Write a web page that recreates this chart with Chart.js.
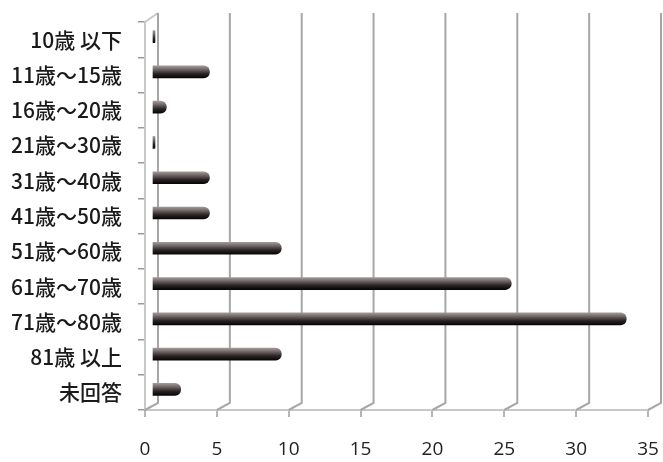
<!DOCTYPE html>
<html>
<head>
<meta charset="utf-8">
<script src="https://cdn.jsdelivr.net/npm/chart.js@4"></script>
<style>
  html, body { margin: 0; padding: 0; background: #fff; }
  #wrap { width: 663px; height: 462px; position: relative; }
</style>
</head>
<body>
<div id="wrap"><canvas id="c"></canvas></div>
<script>
const categories = [
  '10歳 以下', '11歳～15歳', '16歳～20歳', '21歳～30歳', '31歳～40歳',
  '41歳～50歳', '51歳～60歳', '61歳～70歳', '71歳～80歳', '81歳 以上', '未回答'
]
const counts = [0, 4, 1, 0, 4, 4, 9, 25, 33, 9, 2]
const xTicks = [0, 5, 10, 15, 20, 25, 30, 35]

// depth offset of the back wall (3D look)
const DX = 13
const DY = -7

const backWall = {
  id: 'backWall',
  beforeDatasetsDraw (chart) {
    const { ctx, chartArea, scales } = chart
    const x = scales.x
    ctx.save()
    // floor + left wall
    ctx.strokeStyle = '#c8c8c8'
    ctx.lineWidth = 2
    ctx.beginPath()
    ctx.moveTo(chartArea.left, chartArea.bottom)
    ctx.lineTo(chartArea.right, chartArea.bottom)
    ctx.moveTo(chartArea.left, chartArea.bottom)
    ctx.lineTo(chartArea.left, chartArea.top)
    ctx.lineTo(chartArea.left + DX, chartArea.top + DY - 2)
    ctx.stroke()
    // back gridlines
    ctx.strokeStyle = '#a6a6a6'
    xTicks.forEach(v => {
      const px = x.getPixelForValue(v)
      ctx.beginPath()
      ctx.moveTo(px + DX, chartArea.top + DY - 2)
      ctx.lineTo(px + DX, chartArea.bottom + DY)
      ctx.lineTo(px, chartArea.bottom)
      ctx.stroke()
    })
    ctx.restore()
    // bars sit half way into the depth
    ctx.save()
    ctx.translate(7, -3)
  },
  afterDatasetsDraw (chart) {
    chart.ctx.restore()
  }
}

function barFill (context) {
  const chart = context.chart
  if (!chart.chartArea || !chart.scales.y) return '#444'
  const yc = chart.scales.y.getPixelForValue(context.dataIndex)
  const g = chart.ctx.createLinearGradient(0, yc - 6, 0, yc + 6)
  g.addColorStop(0, '#a39898')
  g.addColorStop(0.3, '#6e6565')
  g.addColorStop(0.65, '#2a2525')
  g.addColorStop(1, '#050505')
  return g
}

new Chart(document.getElementById('c'), {
  type: 'bar',
  data: {
    labels: categories,
    datasets: [{
      data: counts,
      backgroundColor: barFill,
      borderWidth: 0,
      borderRadius: 6,
      borderSkipped: 'start',
      barThickness: 12,
      minBarLength: 3
    }]
  },
  plugins: [backWall],
  options: {
    indexAxis: 'y',
    responsive: true,
    maintainAspectRatio: false,
    animation: false,
    layout: { padding: { left: 0, right: 15, top: 22, bottom: 0 } },
    plugins: {
      legend: { display: false },
      tooltip: { enabled: false }
    },
    scales: {
      x: {
        min: 0,
        max: 35,
        afterFit: (s) => {
          s.height = 52
          s.paddingLeft = 0
          s.paddingRight = 0
        },
        ticks: {
          stepSize: 5,
          padding: 21,
          color: '#222',
          font: { family: 'Open Sans', size: 19 }
        },
        grid: {
          drawOnChartArea: false,
          tickLength: 7,
          color: '#b5b5b5',
          lineWidth: 2
        },
        border: { display: false }
      },
      y: {
        afterFit: (s) => {
          s.width = 145
          s.paddingTop = 0
          s.paddingBottom = 0
        },
        ticks: {
          padding: 16,
          color: '#1a1a1a',
          font: { family: 'Noto Sans CJK JP', size: 21, weight: '500' }
        },
        grid: {
          offset: true,
          drawOnChartArea: false,
          tickLength: 7,
          color: '#999',
          lineWidth: 1.5
        },
        border: { display: false }
      }
    }
  }
})
</script>
</body>
</html>
